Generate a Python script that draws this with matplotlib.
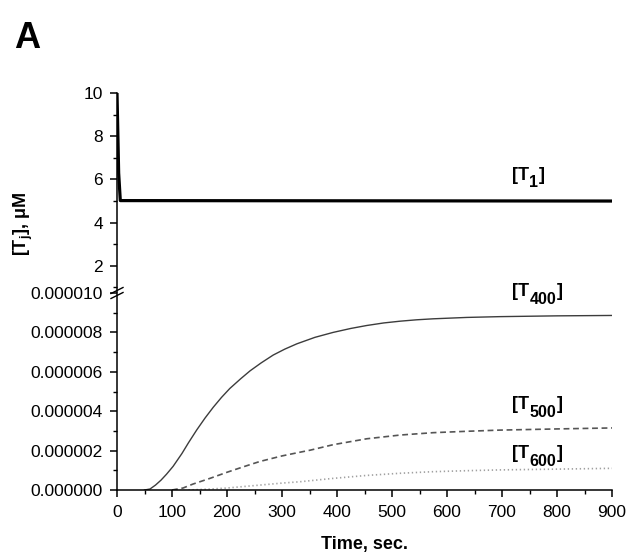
#!/usr/bin/env python3
"""
Panel A: [T] kinetics with a broken y axis (T1 on top, T400/T500/T600 below).
"""

import matplotlib
matplotlib.use("Agg")
import matplotlib.pyplot as plt
from matplotlib.ticker import MultipleLocator, FormatStrFormatter

plt.rcParams["font.family"] = ["Liberation Sans", "DejaVu Sans"]
plt.rcParams["mathtext.fontset"] = "custom"
plt.rcParams["mathtext.rm"] = "Liberation Sans"
plt.rcParams["mathtext.bf"] = "Liberation Sans:bold"
plt.rcParams["mathtext.it"] = "Liberation Sans:italic"

# --- data ---
t_1 = [0, 3, 6, 900]
c_1 = [10.0, 6.3, 5.02, 5.0]

t_400 = [50, 60, 70, 80, 90, 102, 118, 130, 145, 160, 175, 190, 205, 225, 242,
         262, 284, 305, 327, 360, 393, 425, 454, 485, 515, 545, 575, 636, 696,
         800, 900]
c_400 = [0.0, 0.05, 0.25, 0.5, 0.8, 1.2, 1.85, 2.4, 3.05, 3.65, 4.2, 4.7, 5.15,
         5.65, 6.05, 6.45, 6.85, 7.15, 7.42, 7.75, 8.0, 8.2, 8.35, 8.48, 8.57,
         8.64, 8.69, 8.76, 8.8, 8.84, 8.86]

t_500 = [100, 120, 138, 170, 200, 230, 260, 300, 333, 351, 393, 454, 515, 575,
         636, 696, 800, 900]
c_500 = [0.0, 0.1, 0.3, 0.6, 0.9, 1.18, 1.45, 1.73, 1.92, 2.02, 2.3, 2.6,
         2.79, 2.91, 2.98, 3.04, 3.1, 3.15]

t_600 = [130, 170, 200, 260, 300, 333, 393, 454, 515, 575, 636, 696, 800, 900]
c_600 = [0.0, 0.05, 0.1, 0.25, 0.35, 0.42, 0.59, 0.74, 0.85, 0.93, 0.98, 1.02,
         1.06, 1.1]

# lower panel values are in units of 1e-6
c_400 = [v * 1e-6 for v in c_400]
c_500 = [v * 1e-6 for v in c_500]
c_600 = [v * 1e-6 for v in c_600]

x_ticks = [0, 100, 200, 300, 400, 500, 600, 700, 800, 900]

TICK_FS = 12.5
LBL_FS = 13


def style_axis(ax):
    for side in ("top", "right"):
        ax.spines[side].set_visible(False)
    for side in ("left", "bottom"):
        ax.spines[side].set_linewidth(1.1)
    ax.tick_params(which="major", direction="out", length=5, width=1.1,
                   labelsize=TICK_FS, pad=5)
    ax.tick_params(which="minor", direction="out", length=3, width=1.0)


def curve_label(ax, x, y, sub):
    # "[T" + lowered, nearly full-size subscript + "]"
    kw = dict(fontweight="bold", va="baseline", ha="left")
    t = ax.text(x, y, "[T", fontsize=13, **kw)
    s = ax.annotate(sub, xy=(1, y), xycoords=(t, "data"), xytext=(0.3, -5.5),
                    textcoords="offset points", fontsize=11.5, **kw)
    ax.annotate("]", xy=(1, y), xycoords=(s, "data"), xytext=(0.3, 0),
                textcoords="offset points", fontsize=13, **kw)


def main() -> None:
    W, H = 631, 558
    fig = plt.figure(figsize=(W / 100, H / 100), dpi=100)

    # pixel boxes: x 117..612, lower y 293..490, upper y 93..292
    ax_hi = fig.add_axes([117 / W, 1 - 292 / H, 495 / W, 199 / H])
    ax_lo = fig.add_axes([117 / W, 1 - 490 / H, 495 / W, 197 / H])
    ax_hi.patch.set_visible(False)
    ax_lo.patch.set_visible(False)

    # upper panel: T1
    ax_hi.plot(t_1, c_1, color="black", lw=2.3, solid_capstyle="butt")
    ax_hi.set_xlim(0, 900)
    ax_hi.set_ylim(0.79, 10)
    style_axis(ax_hi)
    ax_hi.spines["bottom"].set_visible(False)
    ax_hi.xaxis.set_visible(False)
    ax_hi.yaxis.set_major_locator(MultipleLocator(2))
    ax_hi.yaxis.set_minor_locator(MultipleLocator(1))
    ax_hi.set_yticks([2, 4, 6, 8, 10])
    curve_label(ax_hi, 718, 5.98, "1")

    # lower panel: T400 / T500 / T600
    ax_lo.plot(t_400, c_400, color="#3c3c3c", lw=1.0)
    ax_lo.plot(t_500, c_500, color="#555555", lw=1.2, dashes=(3.5, 2.2))
    ax_lo.plot(t_600, c_600, color="#a0a0a0", lw=1.2, dashes=(0.8, 1.6))
    ax_lo.set_xlim(0, 900)
    ax_lo.set_ylim(0, 1e-5)
    style_axis(ax_lo)
    ax_lo.set_xticks(x_ticks)
    ax_lo.xaxis.set_minor_locator(MultipleLocator(50))
    ax_lo.yaxis.set_major_locator(MultipleLocator(2e-6))
    ax_lo.yaxis.set_minor_locator(MultipleLocator(1e-6))
    ax_lo.yaxis.set_major_formatter(FormatStrFormatter("%.6f"))
    ax_lo.tick_params(axis="x", pad=6)
    ax_lo.set_xlabel("Time, sec.", fontsize=LBL_FS, fontweight="bold", labelpad=11)

    curve_label(ax_lo, 718, 9.85e-6, "400")
    curve_label(ax_lo, 718, 4.11e-6, "500")
    curve_label(ax_lo, 718, 1.62e-6, "600")

    # break marks on the left spine
    dx, dy = 6 / 495, 3 / 197
    for off in (-2.5 / 197, 2.5 / 197):
        ax_lo.plot([-dx, dx], [1 + off - dy, 1 + off + dy], color="black",
                   lw=1.0, transform=ax_lo.transAxes, clip_on=False)

    fig.text(23 / W, 1 - 224 / H, r"[T$_\mathbf{j}$], μM", rotation=90,
             fontsize=LBL_FS, fontweight="bold", ha="center", va="center")
    fig.text(14 / W, 1 - 48 / H, "A", fontsize=26, fontweight="bold",
             ha="left", va="baseline")

    fig.savefig("out.png", dpi=100)
    plt.close(fig)


if __name__ == "__main__":
    main()
